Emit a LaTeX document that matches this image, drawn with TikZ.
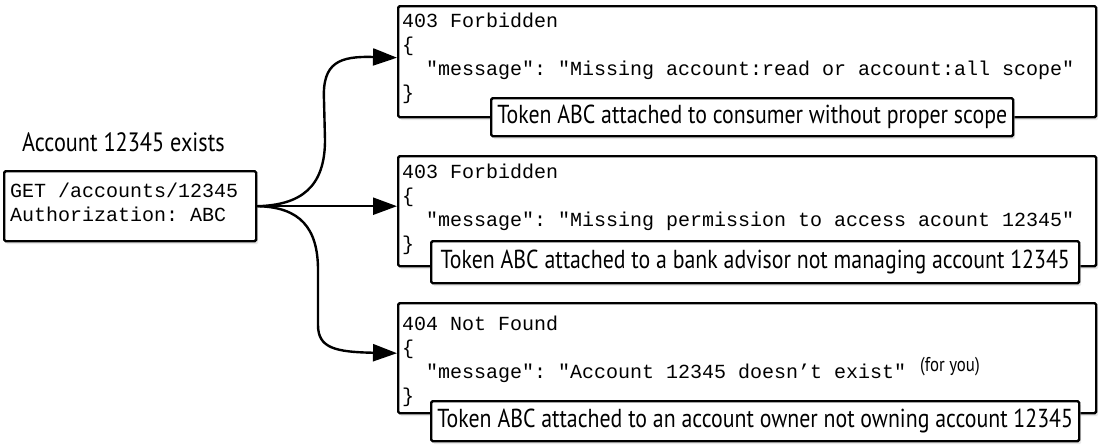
\documentclass[tikz,border=0pt]{standalone}
\usepackage{fontspec}
\setmonofont{Liberation Mono}
\newfontfamily\hand[FakeStretch=0.84]{PT Sans}
\usetikzlibrary{arrows.meta,shadows}
\newcommand{\codelines}[1]{\begin{tabular}[t]{@{}l@{}}#1\end{tabular}}
\begin{document}
\begin{tikzpicture}[x=1pt,y=-1pt,
  box/.style={draw=black, line width=2.4pt, fill=white, rounded corners=1.5pt,
    drop shadow={shadow xshift=2pt,shadow yshift=-3pt,fill=black!18},
    anchor=north west, inner sep=0pt},
  code/.style={font=\ttfamily\fontsize{20}{24.3}\selectfont, anchor=base west, inner sep=0pt},
  tok/.style={box, font=\hand\fontsize{26}{28}\selectfont},
  arr/.style={line width=2.4pt, -{Triangle[length=24pt,width=17pt]}}]
\useasboundingbox (0,0) rectangle (1100,445);

% request
\node[font=\hand\fontsize{26.5}{28}\selectfont, anchor=base west, inner sep=0pt] (lbl) at (22,151) {Account 12345 exists};
\node[box, minimum width=252pt, minimum height=70pt] (req) at (3,170) {};
\node[code] (reqt) at (10,197) {\codelines{GET /accounts/12345\\Authorization: ABC}};

% response 1
\node[box, minimum width=698pt, minimum height=111pt] (b1) at (397,5) {};
\node[code] (b1t) at (402,27) {\codelines{403 Forbidden\\\{\\\ \ "message": "Missing account:read or account:all scope"\\\}}};
\node[tok, minimum width=522pt, minimum height=38pt] (t1) at (490,97) {Token ABC attached to consumer without proper scope};

% response 2
\node[box, minimum width=698pt, minimum height=110pt] (b2) at (397,155) {};
\node[code] (b2t) at (402,178) {\codelines{403 Forbidden\\\{\\\ \ "message": "Missing permission to access acount 12345"\\\}}};
\node[tok, minimum width=648pt, minimum height=42pt] (t2) at (430,240) {Token ABC attached to a bank advisor not managing account 12345};

% response 3
\node[box, minimum width=698pt, minimum height=110pt] (b3) at (397,302) {};
\node[code] (b3t) at (402,330) {\codelines{404 Not Found\\\{\\\ \ "message": "Account 12345 doesn’t exist"\\\}}};
\node[font=\hand\fontsize{20}{22}\selectfont, anchor=base west, inner sep=0pt] (fy) at (920,371) {(for you)};
\node[tok, minimum width=648pt, minimum height=40pt] (t3) at (430,400) {Token ABC attached to an account owner not owning account 12345};

% connectors
\draw[arr] (req.east) .. controls (300,205) and (325,188) .. (325,140) -- (324,100)
   .. controls (322,62) and (340,56) .. ([yshift=4pt]b1.west);
\draw[arr] (req.east) -- (req.east -| b2.west);
\draw[arr] (req.east) .. controls (300,207) and (318,228) .. (318,270) -- (318,325)
   .. controls (318,348) and (335,352) .. ([yshift=5pt]b3.west);
\end{tikzpicture}
\end{document}
